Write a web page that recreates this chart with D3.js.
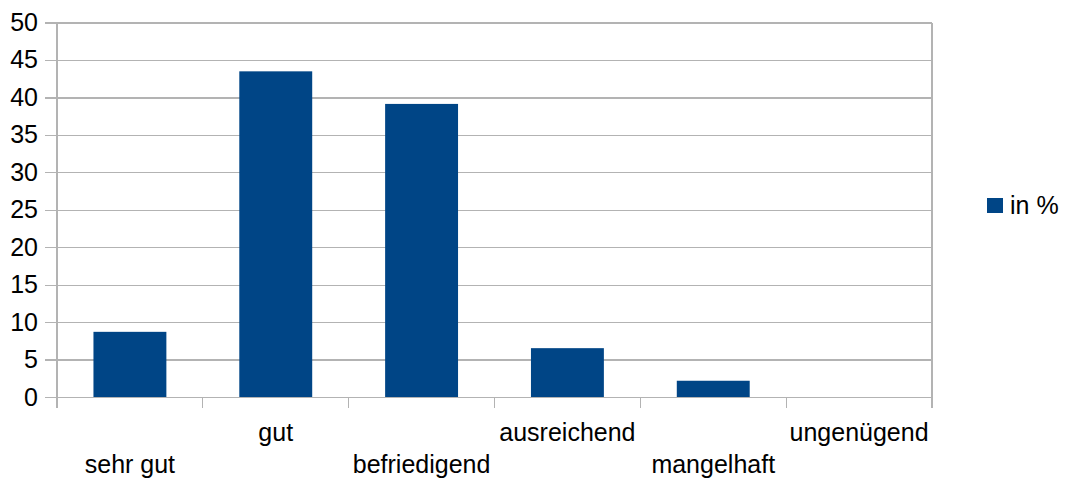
<!DOCTYPE html>
<html>
<head>
<meta charset="utf-8">
<script src="https://cdn.jsdelivr.net/npm/d3@7"></script>
<style>
  body { margin: 0; background: #fff; }
  text { font-family: "Liberation Sans", Arial, sans-serif; fill: #000; }
</style>
</head>
<body>
<svg id="chart"></svg>
<script>
const categories = ['sehr gut', 'gut', 'befriedigend', 'ausreichend', 'mangelhaft', 'ungenügend'];
const values = [8.70, 43.48, 39.13, 6.52, 2.17, 0];
const yTicks = [0, 5, 10, 15, 20, 25, 30, 35, 40, 45, 50];
const seriesName = 'in %';

const width = 1069;
const height = 479;
const plotLeft = 57, plotRight = 932, plotTop = 22.5, plotBottom = 397;
const fontSize = 25;
const barColor = '#004586';
const gridColor = '#b3b3b3';

const svg = d3.select('#chart')
  .attr('width', width)
  .attr('height', height);

const x = d3.scaleBand()
  .domain(categories)
  .range([plotLeft, plotRight])
  .paddingInner(0.5)
  .paddingOuter(0.25);

const xEdges = d3.scaleLinear()
  .domain([0, categories.length])
  .range([plotLeft, plotRight]);

const y = d3.scaleLinear()
  .domain([0, 50])
  .range([plotBottom, plotTop]);

// grid lines plus left ticks
const yAxis = svg.append('g')
  .attr('transform', `translate(${plotRight},0)`)
  .call(d3.axisLeft(y).tickValues(yTicks).tickSize(plotRight - plotLeft + 12).tickPadding(7))

yAxis.select('.domain').remove();
yAxis.selectAll('line')
  .attr('stroke', gridColor)
  .attr('stroke-width', 1.2)
  .attr('shape-rendering', 'crispEdges');
yAxis.selectAll('text')
  .style('font-size', fontSize + 'px')
  .attr('fill', '#000');

// left and right vertical lines
svg.append('g')
  .selectAll('line')
  .data([plotLeft, plotRight])
  .enter()
  .append('line')
  .attr('x1', d => d)
  .attr('x2', d => d)
  .attr('y1', plotTop)
  .attr('y2', plotBottom + 11)
  .attr('stroke', gridColor)
  .attr('stroke-width', 1.2)
  .attr('shape-rendering', 'crispEdges');

// x ticks at band edges
svg.append('g')
  .selectAll('line')
  .data(d3.range(1, categories.length))
  .enter()
  .append('line')
  .attr('x1', d => xEdges(d))
  .attr('x2', d => xEdges(d))
  .attr('y1', plotBottom)
  .attr('y2', plotBottom + 11)
  .attr('stroke', gridColor)
  .attr('stroke-width', 1.2)
  .attr('shape-rendering', 'crispEdges');

// bars
svg.append('g')
  .selectAll('rect')
  .data(values)
  .enter()
  .append('rect')
  .attr('x', (d, i) => x(categories[i]))
  .attr('y', d => y(d))
  .attr('width', x.bandwidth())
  .attr('height', d => plotBottom - y(d))
  .attr('fill', barColor);

// staggered category labels
svg.append('g')
  .selectAll('text')
  .data(categories)
  .enter()
  .append('text')
  .text(d => d)
  .attr('x', d => x(d) + x.bandwidth() / 2)
  .attr('y', (d, i) => i % 2 === 0 ? 473 : 441)
  .attr('text-anchor', 'middle')
  .style('font-size', fontSize + 'px');

// legend
const legend = svg.append('g');
legend.append('rect')
  .attr('x', 987)
  .attr('y', 198)
  .attr('width', 16)
  .attr('height', 15)
  .attr('fill', barColor);
legend.append('text')
  .text(seriesName)
  .attr('x', 1010)
  .attr('y', 214)
  .style('font-size', fontSize + 'px');
</script>
</body>
</html>
